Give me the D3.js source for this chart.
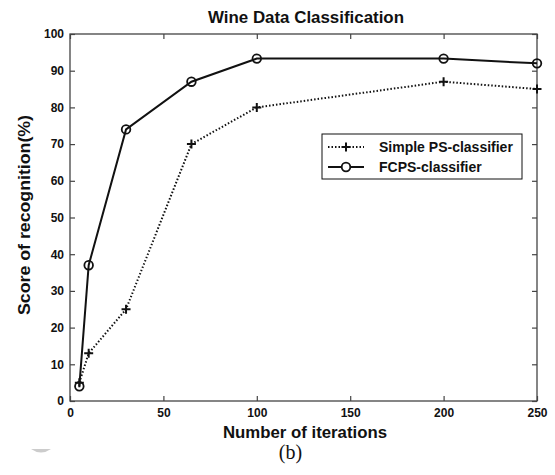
<!DOCTYPE html>
<html>
<head>
<meta charset="utf-8">
<script src="https://cdn.jsdelivr.net/npm/d3@7"></script>
<style>
  body { margin: 0; background: #fff; }
  svg text { font-family: "Liberation Sans", Arial, sans-serif; }
</style>
</head>
<body>
<div id="graph"></div>
<script>
// data
const iterations = [5, 10, 30, 65, 100, 200, 250];
const simplePS = [5, 13, 25, 70, 80, 87, 85];
const fcps = [4, 37, 74, 87, 93.3, 93.3, 92];
const xTicks = [0, 50, 100, 150, 200, 250];
const yTicks = [0, 10, 20, 30, 40, 50, 60, 70, 80, 90, 100];
const seriesNames = ["Simple PS-classifier", "FCPS-classifier"];

const margin = { top: 34, right: 18, left: 70, bottom: 74 };
const fullWidth = 555;
const fullHeight = 475;
const width = fullWidth - margin.left - margin.right;
const height = fullHeight - margin.top - margin.bottom;

var root = d3.select("#graph")
	.append("svg")
	.attr("width", fullWidth)
	.attr("height", fullHeight);

var svg = root.append("g")
	.attr("transform", "translate(" + margin.left + "," + margin.top + ")");

var x = d3.scaleLinear().domain([0, 250]).range([0, width]);
var y = d3.scaleLinear().domain([0, 100]).range([height, 0]);

// frame
svg.append("rect")
	.attr("width", width)
	.attr("height", height)
	.attr("fill", "none")
	.attr("stroke", "#444")
	.attr("stroke-width", 1.3);

// axes with inward ticks, mirrored on top and right
function styleAxis(g, showText) {
	g.select(".domain").remove();
	g.selectAll(".tick line").attr("stroke", "#444").attr("stroke-width", 1.2);
	g.selectAll(".tick text")
		.attr("fill", "#111")
		.style("font-size", "12px")
		.style("font-weight", "bold")
		.style("display", showText ? null : "none");
}

svg.append("g")
	.attr("transform", `translate(0,${height})`)
	.call(d3.axisBottom(x).tickValues(xTicks).tickSize(-5).tickPadding(7))
	.call(g => styleAxis(g, true));
svg.append("g")
	.call(d3.axisTop(x).tickValues(xTicks).tickSize(-5))
	.call(g => styleAxis(g, false));
svg.append("g")
	.call(d3.axisLeft(y).tickValues(yTicks).tickSize(-5).tickPadding(6))
	.call(g => styleAxis(g, true));
svg.append("g")
	.attr("transform", `translate(${width},0)`)
	.call(d3.axisRight(y).tickValues(yTicks).tickSize(-5))
	.call(g => styleAxis(g, false));

var line = d3.line()
	.x(d => x(d[0]))
	.y(d => y(d[1]));

var ps = iterations.map((v, i) => [v, simplePS[i]]);
var fc = iterations.map((v, i) => [v, fcps[i]]);

svg.append("path")
	.datum(ps)
	.attr("d", line)
	.attr("fill", "none")
	.attr("stroke", "#111")
	.attr("stroke-width", 2)
	.attr("stroke-dasharray", "1.5,2");

svg.append("path")
	.datum(fc)
	.attr("d", line)
	.attr("fill", "none")
	.attr("stroke", "#111")
	.attr("stroke-width", 2);

function plus(sel, s) {
	sel.append("path")
		.attr("d", `M${-s},0H${s}M0,${-s}V${s}`)
		.attr("stroke", "#111")
		.attr("stroke-width", 2);
}

svg.append("g").selectAll(".pt")
	.data(ps)
	.enter().append("g")
	.attr("transform", d => `translate(${x(d[0])},${y(d[1])})`)
	.each(function () { plus(d3.select(this), 4.5); });

svg.append("g").selectAll("circle")
	.data(fc)
	.enter().append("circle")
	.attr("cx", d => x(d[0]))
	.attr("cy", d => y(d[1]))
	.attr("r", 4.3)
	.attr("fill", "none")
	.attr("stroke", "#111")
	.attr("stroke-width", 1.8);

// legend
var legend = svg.append("g").attr("transform", `translate(${322 - margin.left},${134 - margin.top})`);
legend.append("rect")
	.attr("width", 200)
	.attr("height", 45)
	.attr("fill", "#fff")
	.attr("stroke", "#111")
	.attr("stroke-width", 1);

legend.append("line")
	.attr("x1", 6).attr("x2", 42).attr("y1", 13).attr("y2", 13)
	.attr("stroke", "#111").attr("stroke-width", 2)
	.attr("stroke-dasharray", "1.5,2");
legend.append("g").attr("transform", "translate(24,13)").call(g => plus(g, 4.5));
legend.append("line")
	.attr("x1", 6).attr("x2", 42).attr("y1", 33).attr("y2", 33)
	.attr("stroke", "#111").attr("stroke-width", 2);
legend.append("circle")
	.attr("cx", 24).attr("cy", 33).attr("r", 4.3)
	.attr("fill", "#fff").attr("stroke", "#111").attr("stroke-width", 1.8);

legend.selectAll(".lt")
	.data(seriesNames)
	.enter().append("text")
	.attr("x", 57)
	.attr("y", (d, i) => 13 + i * 20)
	.attr("dy", "0.35em")
	.style("font-size", "14px")
	.style("font-weight", "bold")
	.attr("fill", "#111")
	.text(d => d);

// titles
root.append("text")
	.attr("x", 306)
	.attr("y", 23)
	.attr("text-anchor", "middle")
	.attr("textLength", 196)
	.attr("lengthAdjust", "spacingAndGlyphs")
	.style("font-size", "16px")
	.style("font-weight", "bold")
	.attr("fill", "#111")
	.text("Wine Data Classification");

root.append("text")
	.attr("x", 305)
	.attr("y", 438)
	.attr("text-anchor", "middle")
	.attr("textLength", 164)
	.attr("lengthAdjust", "spacingAndGlyphs")
	.style("font-size", "16px")
	.style("font-weight", "bold")
	.attr("fill", "#111")
	.text("Number of iterations");

root.append("text")
	.attr("transform", "translate(30,215) rotate(-90)")
	.attr("text-anchor", "middle")
	.attr("textLength", 200)
	.attr("lengthAdjust", "spacingAndGlyphs")
	.style("font-size", "16px")
	.style("font-weight", "bold")
	.attr("fill", "#111")
	.text("Score of recognition(%)");

root.append("text")
	.attr("x", 290.5)
	.attr("y", 459)
	.attr("text-anchor", "middle")
	.style("font-family", "'Liberation Serif', 'Times New Roman', serif")
	.style("font-size", "20px")
	.attr("fill", "#111")
	.text("(b)");

// faint grey arc near bottom-left, as in the scan
root.append("path")
	.attr("d", "M31,449 Q41,456 51,449 Z")
	.attr("fill", "#ccc");
</script>
</body>
</html>
